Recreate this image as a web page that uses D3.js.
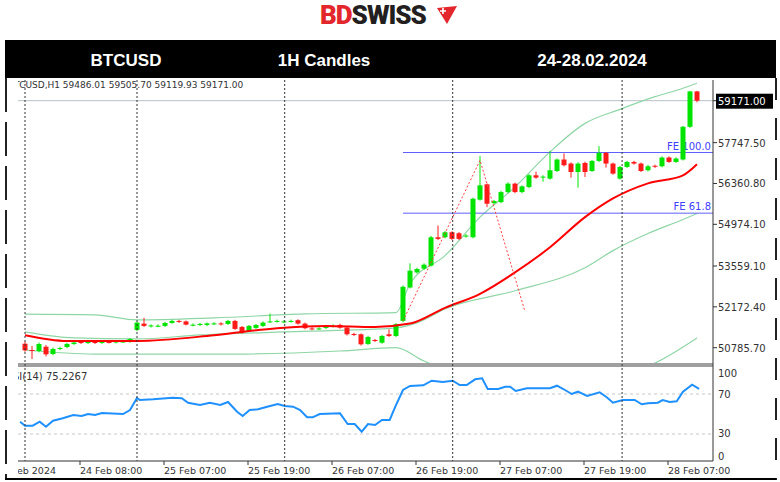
<!DOCTYPE html>
<html><head><meta charset="utf-8">
<script src="https://cdn.jsdelivr.net/npm/d3@7/dist/d3.min.js"></script>
<style>body{margin:0;background:#fff}svg{display:block}</style>
</head><body>
<script>
// ---- data ----
const opens = [50921,50707,50673,50819,50570,50741,50809,50911,50980,50945,50980,50945,50980,50962,50980,50980,51389,51603,51508,51525,51525,51627,51695,51678,51552,51559,51559,51593,51610,51593,51695,51491,51354,51457,51525,51661,51678,51661,51678,51719,51603,51440,51423,51457,51508,51559,51467,51252,51242,50911,51047,50955,51242,51184,51695,52830,53342,53468,53570,54535,54535,54705,54671,54559,54535,55810,56332,55694,55728,56069,56355,56069,56239,56638,56570,56526,56785,57174,57037,56751,57058,56785,57126,57399,57037,56526,56922,57092,57037,56809,56962,56945,57242,57092,57174,58285,59486];
const closes = [50696,50673,50911,50560,50741,50775,50911,50962,50945,50980,50945,50980,50962,50996,50996,51082,51638,51525,51542,51532,51627,51695,51661,51569,51566,51593,51610,51610,51576,51695,51423,51296,51525,51559,51638,51678,51695,51678,51695,51603,51447,51412,51440,51491,51525,51467,51242,51218,50901,51150,51013,51184,51184,51583,52854,53400,53458,53604,54535,54480,54705,54480,54480,54593,55844,56298,55673,55762,56069,56355,56069,56263,56638,56560,56594,56809,57174,56979,56751,57037,56751,57126,57399,57037,56696,56922,57092,57037,56785,56945,56928,57242,57092,57208,58285,59486,59171];
const highs = [50990,50840,50960,50880,50790,50820,50950,51000,51020,51020,51020,51020,51010,51030,51030,51110,51670,51800,51580,51580,51660,51730,51730,51710,51610,51630,51640,51650,51650,51730,51730,51520,51560,51590,51680,51944,51740,51720,51740,51750,51640,51480,51480,51530,51580,51600,51500,51290,51270,51190,51080,51220,51412,51620,52900,53649,53500,53650,54580,54934,54750,54740,54710,54640,55880,57286,56360,55800,56110,56400,56390,56300,56680,56760,56640,57467,57210,57380,57080,57080,57100,57160,57627,57430,57070,56960,57130,57130,57070,56990,57000,57280,57280,57250,58320,59505,59505];
const lows = [50650,50400,50630,50490,50530,50700,50770,50880,50910,50910,50910,50910,50930,50930,50950,50950,51350,51490,51470,51480,51490,51600,51630,51540,51510,51520,51520,51560,51540,51560,51390,51260,51320,51420,51490,51630,51640,51620,51640,51570,51410,51380,51390,51420,51470,51430,51200,51180,50860,50880,50980,50920,51150,51150,51650,52800,53300,53430,53540,54440,54500,54440,54440,54520,54500,55780,55558,55660,55690,56030,56030,56030,56200,56520,56420,56490,56750,56940,56560,56219,56580,56750,57090,56900,56660,56490,56890,57000,56750,56770,56890,56910,57060,57060,57140,58250,59119];

const maIdx = [0,6,16,27,36,43,50,55,60,65,70,75,80,84,89,94,96];
const maVal = [51208,51013,51013,51208,51446,51525,51491,51604,52138,52616,53342,54194,55217,55854,56366,56638,57013];
const bbUpIdx = [0,10,16,27,40,53,55,60,65,70,75,80,85,90,94,96];
const bbUpVal = [51923,51900,51729,51797,51934,51978,52957,53911,55217,56239,57433,58401,58878,59307,59594,59764];
const bbMidIdx = [0,7,16,25,37,47,53,56,60,70,80,84,89,94,96];
const bbMidVal = [51320,51116,51082,51218,51320,51388,51457,51627,52104,52718,53502,54082,54661,55138,55343];
const bbLoIdx = [0,10,30,45,53,57,60,70,80,90,96];
const bbLoVal = [50707,50570,50570,50673,50785,50332,50059,49582,49650,50264,51116];

const rsiIdx = [-0.7,0,1.1,2.1,3,4,5.4,6.9,8.1,9,10,11,14,15,16,16.4,18.3,21.1,22.4,23.3,25,26.4,27.9,29,30.3,31.1,32.1,33.3,34.6,36.1,37.1,38.3,39.3,40.3,41.1,42.1,45,46.1,47.1,48.1,49,50,51,52.1,52.9,54,55,56.9,58.1,59.7,61.1,62.1,63.1,64.3,65.3,66.1,67.6,68.6,69.3,70.1,71.7,75,76,76.9,78.1,79,80.3,82.1,83.1,84,85.4,87.1,88.1,89,90.4,91.1,92.1,93.1,94,95.3,96.3];
const rsiVal = [42.3,38.3,38.3,42.3,37.3,43.3,45.7,49,48,50,49,51,50,54,66,64,64.7,66.3,65.7,61.3,59,61.3,59,62,52.3,48,54,54.7,57.3,60,58,57.3,54,46.7,46.7,50,50.7,40,40,32.3,40,39,44,44,57.3,74,78,78.7,83.3,82,83.3,79,79,84.7,85.7,75,75,77.3,77.3,73,75.7,75.7,78.3,75,70,72.3,68,71.7,66.7,61.3,64,64,59.7,60.7,61.3,64,62,62.7,72.3,79.3,75.2];

const priceTicks = [59171.00,57747.50,56360.80,54974.10,53559.10,52172.40,50785.70];
const rsiTicks = [100,70,30,0];
const timeIdx = [-4,8,20,32,44,56,68,80,92];
const timeLabels = ["24 Feb 2024","24 Feb 08:00","25 Feb 07:00","25 Feb 19:00","26 Feb 07:00","26 Feb 19:00","27 Feb 07:00","27 Feb 19:00","28 Feb 07:00"];
const daySepIdx = [0,16,37.1,61.1,85.3];
const fePrices = [57412,55353];
const feLabels = ["FE 100.0","FE 61.8"];
const fiboIdx = [54,65,71.4];
const fiboVal = [51695,57149,52037];
const lastPrice = 59171.00;
const headerCells = ["BTCUSD","1H Candles","24-28.02.2024"];

// ---- drawing ----
const W=780,H=482;
const L=18,R=713,T=80,B1=363,T2=367,B2=461;
const svg=d3.select("body").append("svg").attr("width",W).attr("height",H);
const x=d3.scaleLinear().domain([0,96]).range([25,697]);
const y=d3.scaleLinear().domain([50785.7,59171]).range([347.7,100.7]);
const yr=d3.scaleLinear().domain([0,100]).range([464,364]);

// logo
const logo=svg.append("text").attr("x",320).attr("y",24).attr("font-family","Roboto").attr("font-weight",900).attr("font-size",26).attr("letter-spacing",-1);
logo.append("tspan").attr("fill","#e3262c").text("BD");
logo.append("tspan").attr("fill","#231f20").text("SWISS");
svg.append("path").attr("d","M437,8 L457,6 L447,24 Z").attr("fill","#e3262c");
svg.append("path").attr("d","M440,11 h6 M443,8 v6").attr("stroke","#fff").attr("stroke-width",1.6);

// header bar
svg.append("rect").attr("x",5).attr("y",40).attr("width",771).attr("height",38).attr("fill","#000");
[126,324,592].forEach((cx,i)=>svg.append("text").attr("x",cx).attr("y",66).attr("text-anchor","middle")
  .attr("font-family","Liberation Sans").attr("font-weight","bold").attr("font-size",17).attr("fill","#fff").text(headerCells[i]));

// borders
svg.append("line").attr("x1",6).attr("x2",6).attr("y1",78).attr("y2",480).attr("stroke","#222").attr("stroke-width",2).attr("stroke-dasharray","34,10");
svg.append("line").attr("x1",776).attr("x2",776).attr("y1",78).attr("y2",480).attr("stroke","#222").attr("stroke-width",2).attr("stroke-dasharray","22,18");
svg.append("line").attr("x1",5).attr("x2",776).attr("y1",479).attr("y2",479).attr("stroke","#000").attr("stroke-width",2);

const defs=svg.append("defs");
defs.append("clipPath").attr("id","cm").append("rect").attr("x",L).attr("y",T).attr("width",R-L).attr("height",B1-T);
defs.append("clipPath").attr("id","cr").append("rect").attr("x",L).attr("y",T2).attr("width",R-L).attr("height",B2-T2);
defs.append("clipPath").attr("id","ct").append("rect").attr("x",L).attr("y",0).attr("width",R-L+60).attr("height",H);

const gm=svg.append("g").attr("clip-path","url(#cm)");
const gr=svg.append("g").attr("clip-path","url(#cr)");

// separators
svg.append("rect").attr("x",L).attr("y",B1).attr("width",R-L).attr("height",4).attr("fill","#a0a0a0");
daySepIdx.forEach(i=>svg.append("line").attr("x1",x(i)).attr("x2",x(i)).attr("y1",T).attr("y2",B2).attr("stroke","#333").attr("stroke-dasharray","2,2"));

// last price line
gm.append("line").attr("x1",L).attr("x2",R).attr("y1",y(lastPrice)).attr("y2",y(lastPrice)).attr("stroke","#b8c0c8");

// bands
const ln=d3.line().curve(d3.curveMonotoneX);
function pl(g,idx,val,col,w){g.append("path").attr("d",ln(idx.map((d,k)=>[x(d),y(val[k])]))).attr("fill","none").attr("stroke",col).attr("stroke-width",w);}
pl(gm,bbUpIdx,bbUpVal,"#8fd6a6",1.2);
pl(gm,bbMidIdx,bbMidVal,"#8fd6a6",1.2);
pl(gm,bbLoIdx,bbLoVal,"#8fd6a6",1.2);

// FE lines
fePrices.forEach((p,k)=>{
  gm.append("line").attr("x1",403).attr("x2",R).attr("y1",y(p)).attr("y2",y(p)).attr("stroke","#6060ff").attr("stroke-width",1);
  gm.append("text").attr("x",R-2).attr("y",y(p)-3).attr("text-anchor","end").attr("font-family","DejaVu Sans").attr("font-size",10).attr("fill","#4040ff").text(feLabels[k]);
});

// candles
const cd=opens.map((o,i)=>({i,o,c:closes[i],h:highs[i],l:lows[i]}));
const col=d=>d.c>=d.o?"#00e400":"#ff1a1a";
gm.selectAll(".w").data(cd).join("line").attr("x1",d=>x(d.i)).attr("x2",d=>x(d.i)).attr("y1",d=>y(d.h)).attr("y2",d=>y(d.l)).attr("stroke",col);
gm.selectAll(".b").data(cd).join("rect").attr("x",d=>x(d.i)-2.5).attr("width",5)
  .attr("y",d=>y(Math.max(d.o,d.c))).attr("height",d=>Math.max(1,Math.abs(y(d.o)-y(d.c)))).attr("fill",col);

// MA
pl(gm,maIdx,maVal,"#ff0000",2);

// fibo dotted
gm.append("path").attr("d",d3.line()(fiboIdx.map((d,k)=>[x(d),y(fiboVal[k])]))).attr("fill","none").attr("stroke","#ff4040").attr("stroke-dasharray","2,2");

// header texts
svg.append("g").attr("clip-path","url(#ct)").append("text").attr("x",8).attr("y",88).attr("font-family","DejaVu Sans").attr("font-size",9).attr("fill","#333").text("BTCUSD,H1  59486.01 59505.70 59119.93 59171.00");
svg.append("g").attr("clip-path","url(#ct)").append("text").attr("x",6).attr("y",380).attr("font-family","DejaVu Sans").attr("font-size",10).attr("fill","#333").text("RSI(14) 75.2267");

// price axis
svg.append("line").attr("x1",R).attr("x2",R).attr("y1",T).attr("y2",B2).attr("stroke","#333");
priceTicks.forEach(p=>{
  svg.append("line").attr("x1",R).attr("x2",R+4).attr("y1",y(p)).attr("y2",y(p)).attr("stroke","#333");
});
svg.append("rect").attr("x",R+3).attr("y",y(lastPrice)-7).attr("width",57).attr("height",15).attr("fill","#000");
priceTicks.forEach((p,k)=>{
  svg.append("text").attr("x",R+5).attr("y",y(p)+4).attr("font-family","DejaVu Sans").attr("font-size",10)
   .attr("fill",k===0?"#fff":"#333").text(p.toFixed(2));
});

// RSI
[70,30].forEach(v=>gr.append("line").attr("x1",L).attr("x2",R).attr("y1",yr(v)).attr("y2",yr(v)).attr("stroke","#c8c8c8").attr("stroke-dasharray","3,3"));
gr.append("path").attr("d",d3.line()(rsiIdx.map((d,k)=>[x(d),yr(rsiVal[k])]))).attr("fill","none").attr("stroke","#1e90ff").attr("stroke-width",2);
const rsiY={100:373,70:394,30:433,0:456};
rsiTicks.forEach(v=>svg.append("text").attr("x",R+5).attr("y",rsiY[v]+4).attr("font-family","DejaVu Sans").attr("font-size",10).attr("fill","#333").text(v));

// time axis
svg.append("line").attr("x1",L).attr("x2",R).attr("y1",B2).attr("y2",B2).attr("stroke","#333");
const gt=svg.append("g").attr("clip-path","url(#ct)");
timeIdx.forEach((i,k)=>{
  const tx=x(i)-1;
  gt.append("line").attr("x1",tx).attr("x2",tx).attr("y1",B2).attr("y2",B2+4).attr("stroke","#333");
  gt.append("text").attr("x",k===0?56:tx).attr("text-anchor",k===0?"end":"start").attr("y",474).attr("font-family","DejaVu Sans").attr("font-size",9.5).attr("fill","#333").text(timeLabels[k]);
});
</script>
</body></html>
